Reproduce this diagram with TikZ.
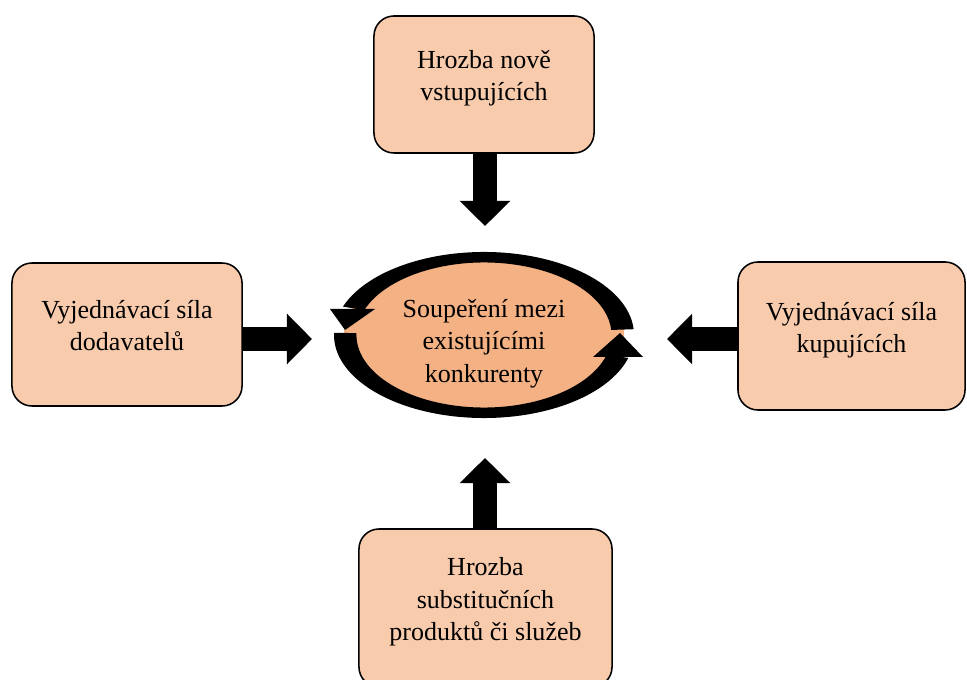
\documentclass[tikz,border=0pt]{standalone}
\usepackage{fontspec}
\setmainfont{Liberation Serif}
\usetikzlibrary{arrows.meta, positioning, calc, shapes.geometric}
\definecolor{silaorange}{HTML}{F8CBAD}
\definecolor{souperorange}{HTML}{F4B183}
\tikzset{
    sila/.style={draw, line width=1.1pt, fill=silaorange, rounded corners=0.5cm, align=center, inner sep=0pt, font=\fontsize{18.5}{23}\selectfont,
        execute at end node={\rule[-12.6pt]{0pt}{0pt}}},
    sipka/.style={line width=0.6cm, -{Triangle[length=0.625cm, width=1.225cm]}}
}
\begin{document}
\begin{tikzpicture}[x=0.025cm, y=0.025cm]
    \useasboundingbox (0,0) rectangle (967,679);

    \node[sila, minimum width=5.5cm, minimum height=3.425cm] (nove) at (484,594.5) {Hrozba nově\\vstupujících};
    \node[sila, minimum width=5.75cm, minimum height=3.575cm] (dodav) at (127,344.5) {Vyjednávací síla\\dodavatelů};
    \node[sila, minimum width=5.675cm, minimum height=3.7cm] (kupuj) at (851.5,343) {Vyjednávací síla\\kupujících};
    \node[sila, minimum width=6.325cm, minimum height=3.95cm] (subst) at (485.5,71) {Hrozba\\substitučních\\produktů či služeb};
    \node[ellipse, fill=souperorange, minimum width=7cm, minimum height=3.9cm, inner sep=0pt, align=center, font=\fontsize{18.5}{23}\selectfont]
        (souper) at (484,344) {\rule{0pt}{25pt}Soupeření mezi\\existujícími\\konkurenty};

    \coordinate (hrotN) at (485,453);
    \coordinate (hrotD) at (312,340);
    \coordinate (hrotK) at (667,340);
    \coordinate (hrotS) at (485,221);

    \draw[sipka] (nove.south -| hrotN) -- (hrotN);
    \draw[sipka] (dodav.east |- hrotD) -- (hrotD);
    \draw[sipka] (kupuj.west |- hrotK) -- (hrotK);
    \draw[sipka] (subst.north -| hrotS) -- (hrotS);

    \foreach \a/\b in {4/160, 178.5/344}
        \fill ($(souper.center)+(\a:150 and 83)$) arc[start angle=\a, end angle=\b, x radius=3.75cm, y radius=2.075cm]
            -- ($(souper.center)+(\b:127.5 and 72.5)$) arc[start angle=\b, end angle=\a, x radius=3.1875cm, y radius=1.8125cm] -- cycle;
    \fill ($(souper.center)+(-154,26)$) -- ($(souper.center)+(-109,26)$) -- ($(souper.center)+(-139,5)$) -- cycle;
    \fill ($(souper.center)+(109,-22)$) -- ($(souper.center)+(159,-22)$) -- ($(souper.center)+(136,2)$) -- cycle;
\end{tikzpicture}
\end{document}
